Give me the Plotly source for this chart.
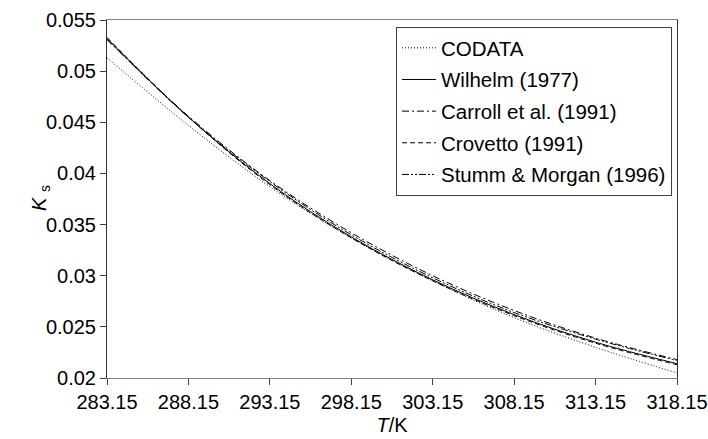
import plotly.graph_objects as go

T = [283.15, 288.15, 293.15, 298.15, 303.15, 308.15, 313.15, 318.15]
codata = [0.0513, 0.0447, 0.0387, 0.0337, 0.0295, 0.0259, 0.0230, 0.0205]
wilhelm = [0.0532, 0.0455, 0.0390, 0.0338, 0.0296, 0.0262, 0.0235, 0.0214]
carroll = [0.0531, 0.0456, 0.0393, 0.0342, 0.0300, 0.0266, 0.0239, 0.0218]
crovetto = [0.0533, 0.0455, 0.0389, 0.0337, 0.0295, 0.0261, 0.0234, 0.0213]
stumm = [0.0531, 0.0455, 0.0392, 0.0340, 0.0298, 0.0264, 0.0238, 0.0217]

series_names = ["CODATA", "Wilhelm (1977)", "Carroll et al. (1991)", "Crovetto (1991)", "Stumm & Morgan (1996)"]
series_vals = [codata, wilhelm, carroll, crovetto, stumm]
dashes = ["1px,2px", "solid", "7px,3px,2px,3px", "5px,3px", "7px,2px,2px,2px,2px,2px"]

x_ticks = [283.15, 288.15, 293.15, 298.15, 303.15, 308.15, 313.15, 318.15]
x_ticktext = ["283.15", "288.15", "293.15", "298.15", "303.15", "308.15", "313.15", "318.15"]
y_ticks = [0.02, 0.025, 0.03, 0.035, 0.04, 0.045, 0.05, 0.055]
y_ticktext = ["0.02", "0.025", "0.03", "0.035", "0.04", "0.045", "0.05", "0.055"]

FONT = "Liberation Sans, Arial, sans-serif"

fig = go.Figure()
for i, (name, vals, dash) in enumerate(zip(series_names, series_vals, dashes)):
    fig.add_trace(go.Scatter(
        x=T, y=vals, mode="lines", name=name, legendgroup=f"g{i}",
        line=dict(color="black", width=1, dash=dash, shape="spline", smoothing=1.0),
    ))

fig.update_layout(
    width=708, height=439,
    margin=dict(l=107, r=31, t=20, b=61, autoexpand=False),
    paper_bgcolor="white", plot_bgcolor="white",
    font=dict(family=FONT, size=20, color="black"),
    showlegend=True,
    legend=dict(
        x=(672 - 107) / 570, xanchor="right",
        y=(378 - 27) / 358, yanchor="top",
        bgcolor="white", bordercolor="#404040", borderwidth=1,
        font=dict(family=FONT, size=20.5, color="black"),
        traceorder="grouped", tracegroupgap=2, itemwidth=34,
    ),
    xaxis=dict(
        range=[283.15, 318.15], tickvals=x_ticks, ticktext=x_ticktext,
        showgrid=False, zeroline=False, automargin=False,
        showline=True, linecolor="#808080", linewidth=1, mirror=True,
        ticks="outside", ticklen=6, tickcolor="#404040", tickwidth=1,
        title=dict(text="<i>T</i>/K", font=dict(size=20), standoff=5),
    ),
    yaxis=dict(
        range=[0.02, 0.055], tickvals=y_ticks, ticktext=y_ticktext,
        showgrid=False, zeroline=False, automargin=False,
        showline=True, linecolor="#303030", linewidth=1, mirror=True,
        ticks="outside", ticklen=6, tickcolor="#404040", tickwidth=1,
    ),
    annotations=[dict(
        text="<i>K</i> <sub>s</sub>", textangle=-90,
        xref="paper", yref="paper",
        x=(40 - 107) / 570, y=(378 - 198) / 358,
        xanchor="center", yanchor="middle", showarrow=False,
        font=dict(family=FONT, size=20, color="black"),
    )],
)

fig.write_html(
    "out.html",
    config={"displayModeBar": False},
    post_script="document.body.style.margin='0';document.body.style.overflow='hidden';",
)
